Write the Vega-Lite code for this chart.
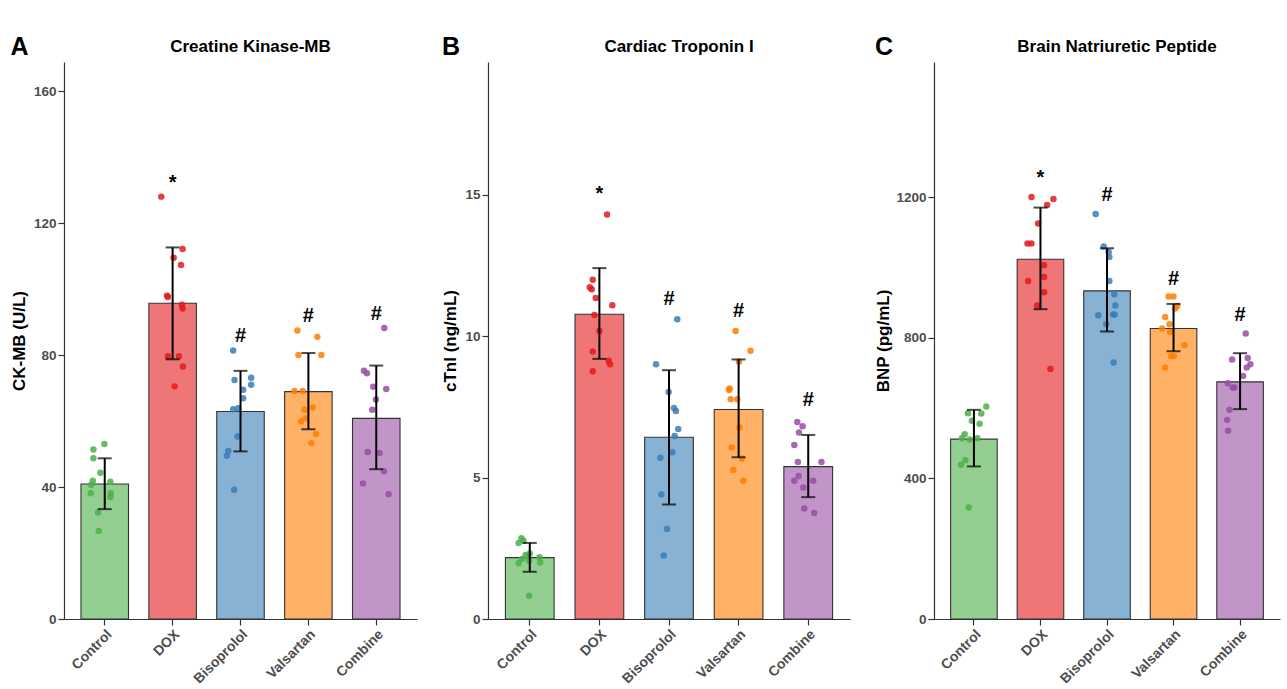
{
  "$schema": "https://vega.github.io/schema/vega-lite/v6.json",
  "padding": {"left": 10, "top": 35, "right": 4, "bottom": 4},
  "background": "white",
  "config": {
    "font": "Liberation Sans",
    "view": {"stroke": null},
    "axis": {"grid": false, "domainColor": "#333333", "tickColor": "#333333", "domainWidth": 1.2, "tickWidth": 1.2, "tickSize": 6, "labelPadding": 2, "labelFontWeight": "bold", "labelColor": "#4D4D4D", "labelFontSize": 13.5, "titleFontSize": 17, "titleFontWeight": "bold", "titleColor": "black", "titlePadding": 5},
    "axisX": {"labelFontSize": 14},
    "title": {"font": "Liberation Sans", "fontWeight": "bold", "color": "black"},
    "concat": {"spacing": 24}
  },
  "datasets": {
    "sumA": [
      {"g": "Control", "m": 40.9, "lo": 33.3, "hi": 48.7},
      {"g": "DOX", "m": 95.7, "lo": 78.7, "hi": 112.6},
      {"g": "Bisoprolol", "m": 62.9, "lo": 50.8, "hi": 75.2},
      {"g": "Valsartan", "m": 68.9, "lo": 57.5, "hi": 80.6},
      {"g": "Combine", "m": 60.8, "lo": 45.4, "hi": 76.8}
    ],
    "ptsA": [
      {"g": "Control", "v": 51.4, "j": -0.167}, {"g": "Control", "v": 53.0, "j": -0.005}, {"g": "Control", "v": 48.7, "j": -0.167}, {"g": "Control", "v": 44.3, "j": -0.064}, {"g": "Control", "v": 41.9, "j": -0.176}, {"g": "Control", "v": 41.6, "j": 0.083}, {"g": "Control", "v": 40.6, "j": -0.201}, {"g": "Control", "v": 38.1, "j": 0.088}, {"g": "Control", "v": 38.1, "j": -0.206}, {"g": "Control", "v": 37.0, "j": 0.083}, {"g": "Control", "v": 32.3, "j": -0.098}, {"g": "Control", "v": 26.7, "j": -0.088},
      {"g": "DOX", "v": 128.0, "j": -0.167}, {"g": "DOX", "v": 112.1, "j": 0.147}, {"g": "DOX", "v": 109.5, "j": 0.015}, {"g": "DOX", "v": 107.3, "j": 0.123}, {"g": "DOX", "v": 98.0, "j": -0.083}, {"g": "DOX", "v": 97.6, "j": -0.07}, {"g": "DOX", "v": 95.2, "j": 0.137}, {"g": "DOX", "v": 94.1, "j": 0.147}, {"g": "DOX", "v": 79.6, "j": -0.069}, {"g": "DOX", "v": 79.6, "j": 0.093}, {"g": "DOX", "v": 76.5, "j": 0.152}, {"g": "DOX", "v": 70.5, "j": 0.029},
      {"g": "Bisoprolol", "v": 81.4, "j": -0.108}, {"g": "Bisoprolol", "v": 72.4, "j": -0.088}, {"g": "Bisoprolol", "v": 73.1, "j": 0.157}, {"g": "Bisoprolol", "v": 71.0, "j": 0.157}, {"g": "Bisoprolol", "v": 69.5, "j": 0.039}, {"g": "Bisoprolol", "v": 66.9, "j": 0.039}, {"g": "Bisoprolol", "v": 63.6, "j": -0.108}, {"g": "Bisoprolol", "v": 63.9, "j": -0.034}, {"g": "Bisoprolol", "v": 55.3, "j": -0.044}, {"g": "Bisoprolol", "v": 50.9, "j": -0.181}, {"g": "Bisoprolol", "v": 49.5, "j": -0.201}, {"g": "Bisoprolol", "v": 39.2, "j": -0.093},
      {"g": "Valsartan", "v": 87.4, "j": -0.162}, {"g": "Valsartan", "v": 85.5, "j": 0.132}, {"g": "Valsartan", "v": 80.0, "j": -0.147}, {"g": "Valsartan", "v": 80.0, "j": 0.191}, {"g": "Valsartan", "v": 69.1, "j": -0.206}, {"g": "Valsartan", "v": 69.1, "j": -0.083}, {"g": "Valsartan", "v": 63.4, "j": -0.059}, {"g": "Valsartan", "v": 64.1, "j": 0.064}, {"g": "Valsartan", "v": 59.9, "j": -0.108}, {"g": "Valsartan", "v": 60.8, "j": -0.039}, {"g": "Valsartan", "v": 56.1, "j": 0.113}, {"g": "Valsartan", "v": 53.3, "j": 0.044},
      {"g": "Combine", "v": 88.2, "j": 0.118}, {"g": "Combine", "v": 75.2, "j": -0.181}, {"g": "Combine", "v": 74.5, "j": -0.137}, {"g": "Combine", "v": 70.4, "j": -0.044}, {"g": "Combine", "v": 69.7, "j": 0.147}, {"g": "Combine", "v": 66.5, "j": -0.005}, {"g": "Combine", "v": 63.4, "j": -0.059}, {"g": "Combine", "v": 50.6, "j": -0.127}, {"g": "Combine", "v": 50.3, "j": 0.049}, {"g": "Combine", "v": 44.8, "j": 0.113}, {"g": "Combine", "v": 41.1, "j": -0.196}, {"g": "Combine", "v": 37.8, "j": 0.181}
    ],
    "annA": [
      {"g": "DOX", "t": "*", "y": 133.6},
      {"g": "Bisoprolol", "t": "#", "y": 85.8},
      {"g": "Valsartan", "t": "#", "y": 91.9},
      {"g": "Combine", "t": "#", "y": 92.4}
    ],
    "sumB": [
      {"g": "Control", "m": 2.17, "lo": 1.67, "hi": 2.69},
      {"g": "DOX", "m": 10.78, "lo": 9.2, "hi": 12.41},
      {"g": "Bisoprolol", "m": 6.43, "lo": 4.05, "hi": 8.8},
      {"g": "Valsartan", "m": 7.41, "lo": 5.72, "hi": 9.18},
      {"g": "Combine", "m": 5.39, "lo": 4.31, "hi": 6.51}
    ],
    "ptsB": [
      {"g": "Control", "v": 2.86, "j": -0.12}, {"g": "Control", "v": 2.77, "j": -0.09}, {"g": "Control", "v": 2.69, "j": -0.16}, {"g": "Control", "v": 2.32, "j": 0.0}, {"g": "Control", "v": 2.26, "j": -0.06}, {"g": "Control", "v": 2.12, "j": -0.11}, {"g": "Control", "v": 2.06, "j": -0.01}, {"g": "Control", "v": 1.97, "j": -0.16}, {"g": "Control", "v": 2.18, "j": 0.14}, {"g": "Control", "v": 2.0, "j": 0.15}, {"g": "Control", "v": 0.82, "j": -0.01}, {"g": "Control", "v": 2.22, "j": -0.03},
      {"g": "DOX", "v": 14.31, "j": 0.11}, {"g": "DOX", "v": 12.0, "j": -0.095}, {"g": "DOX", "v": 11.73, "j": -0.138}, {"g": "DOX", "v": 11.66, "j": -0.11}, {"g": "DOX", "v": 11.35, "j": -0.052}, {"g": "DOX", "v": 11.1, "j": 0.186}, {"g": "DOX", "v": 10.75, "j": -0.071}, {"g": "DOX", "v": 10.19, "j": 0.0}, {"g": "DOX", "v": 9.46, "j": -0.095}, {"g": "DOX", "v": 9.13, "j": 0.133}, {"g": "DOX", "v": 9.01, "j": 0.152}, {"g": "DOX", "v": 8.76, "j": -0.095},
      {"g": "Bisoprolol", "v": 10.6, "j": 0.119}, {"g": "Bisoprolol", "v": 9.01, "j": -0.186}, {"g": "Bisoprolol", "v": 8.03, "j": -0.005}, {"g": "Bisoprolol", "v": 7.46, "j": 0.071}, {"g": "Bisoprolol", "v": 7.36, "j": 0.1}, {"g": "Bisoprolol", "v": 6.72, "j": 0.133}, {"g": "Bisoprolol", "v": 6.47, "j": 0.081}, {"g": "Bisoprolol", "v": 5.9, "j": 0.048}, {"g": "Bisoprolol", "v": 5.7, "j": -0.124}, {"g": "Bisoprolol", "v": 4.4, "j": -0.11}, {"g": "Bisoprolol", "v": 3.18, "j": -0.029}, {"g": "Bisoprolol", "v": 2.25, "j": -0.076},
      {"g": "Valsartan", "v": 10.19, "j": -0.043}, {"g": "Valsartan", "v": 9.49, "j": 0.171}, {"g": "Valsartan", "v": 9.1, "j": 0.005}, {"g": "Valsartan", "v": 8.15, "j": -0.129}, {"g": "Valsartan", "v": 8.1, "j": -0.138}, {"g": "Valsartan", "v": 7.77, "j": -0.114}, {"g": "Valsartan", "v": 7.77, "j": -0.019}, {"g": "Valsartan", "v": 6.77, "j": 0.014}, {"g": "Valsartan", "v": 6.07, "j": -0.1}, {"g": "Valsartan", "v": 5.68, "j": 0.048}, {"g": "Valsartan", "v": 5.27, "j": -0.076}, {"g": "Valsartan", "v": 4.89, "j": 0.067},
      {"g": "Combine", "v": 6.97, "j": -0.157}, {"g": "Combine", "v": 6.82, "j": -0.081}, {"g": "Combine", "v": 6.6, "j": -0.133}, {"g": "Combine", "v": 6.15, "j": -0.2}, {"g": "Combine", "v": 5.55, "j": -0.148}, {"g": "Combine", "v": 5.55, "j": 0.19}, {"g": "Combine", "v": 5.06, "j": -0.138}, {"g": "Combine", "v": 4.89, "j": -0.2}, {"g": "Combine", "v": 4.89, "j": 0.071}, {"g": "Combine", "v": 4.65, "j": -0.071}, {"g": "Combine", "v": 3.91, "j": -0.057}, {"g": "Combine", "v": 3.75, "j": 0.086}
    ],
    "annB": [
      {"g": "DOX", "t": "*", "y": 15.22},
      {"g": "Bisoprolol", "t": "#", "y": 11.33},
      {"g": "Valsartan", "t": "#", "y": 10.9},
      {"g": "Combine", "t": "#", "y": 7.75}
    ],
    "sumC": [
      {"g": "Control", "m": 511.5, "lo": 433.9, "hi": 594.8},
      {"g": "DOX", "m": 1023, "lo": 881, "hi": 1170},
      {"g": "Bisoprolol", "m": 933, "lo": 817.6, "hi": 1054.3},
      {"g": "Valsartan", "m": 826, "lo": 761.5, "hi": 896},
      {"g": "Combine", "m": 674.4, "lo": 596.8, "hi": 755.9}
    ],
    "ptsC": [
      {"g": "Control", "v": 604.4, "j": 0.186}, {"g": "Control", "v": 585.4, "j": -0.09}, {"g": "Control", "v": 584.6, "j": 0.111}, {"g": "Control", "v": 563.5, "j": -0.03}, {"g": "Control", "v": 555, "j": 0.085}, {"g": "Control", "v": 525.7, "j": -0.139}, {"g": "Control", "v": 514.3, "j": -0.18}, {"g": "Control", "v": 510.7, "j": -0.064}, {"g": "Control", "v": 514.3, "j": 0.051}, {"g": "Control", "v": 451.8, "j": -0.129}, {"g": "Control", "v": 438.5, "j": -0.195}, {"g": "Control", "v": 317.4, "j": -0.079},
      {"g": "DOX", "v": 1200, "j": -0.135}, {"g": "DOX", "v": 1194.4, "j": 0.195}, {"g": "DOX", "v": 1177.3, "j": 0.1}, {"g": "DOX", "v": 1124.4, "j": -0.035}, {"g": "DOX", "v": 1067.6, "j": -0.195}, {"g": "DOX", "v": 1067.6, "j": -0.135}, {"g": "DOX", "v": 1005.9, "j": 0.055}, {"g": "DOX", "v": 961.4, "j": -0.185}, {"g": "DOX", "v": 972.8, "j": 0.055}, {"g": "DOX", "v": 929.2, "j": 0.055}, {"g": "DOX", "v": 891.4, "j": -0.05}, {"g": "DOX", "v": 711.3, "j": 0.15},
      {"g": "Bisoprolol", "v": 1151.8, "j": -0.17}, {"g": "Bisoprolol", "v": 1059, "j": -0.05}, {"g": "Bisoprolol", "v": 1044, "j": 0.025}, {"g": "Bisoprolol", "v": 1029.8, "j": 0.035}, {"g": "Bisoprolol", "v": 961.4, "j": 0.035}, {"g": "Bisoprolol", "v": 923.6, "j": 0.11}, {"g": "Bisoprolol", "v": 891.4, "j": 0.125}, {"g": "Bisoprolol", "v": 863.9, "j": -0.13}, {"g": "Bisoprolol", "v": 865.9, "j": 0.09}, {"g": "Bisoprolol", "v": 865.9, "j": 0.115}, {"g": "Bisoprolol", "v": 838.3, "j": -0.01}, {"g": "Bisoprolol", "v": 729.5, "j": 0.1},
      {"g": "Valsartan", "v": 917, "j": -0.075}, {"g": "Valsartan", "v": 917, "j": 0.0}, {"g": "Valsartan", "v": 890.3, "j": 0.054}, {"g": "Valsartan", "v": 882.9, "j": 0.024}, {"g": "Valsartan", "v": 859, "j": -0.126}, {"g": "Valsartan", "v": 838.3, "j": -0.06}, {"g": "Valsartan", "v": 826, "j": -0.171}, {"g": "Valsartan", "v": 816.4, "j": -0.051}, {"g": "Valsartan", "v": 778.6, "j": 0.165}, {"g": "Valsartan", "v": 748.2, "j": -0.036}, {"g": "Valsartan", "v": 748.2, "j": 0.005}, {"g": "Valsartan", "v": 715.3, "j": -0.126},
      {"g": "Combine", "v": 811.8, "j": 0.085}, {"g": "Combine", "v": 737.9, "j": -0.12}, {"g": "Combine", "v": 742.5, "j": 0.115}, {"g": "Combine", "v": 724.6, "j": 0.155}, {"g": "Combine", "v": 715.2, "j": 0.1}, {"g": "Combine", "v": 691.4, "j": 0.045}, {"g": "Combine", "v": 670.6, "j": -0.185}, {"g": "Combine", "v": 658.4, "j": -0.085}, {"g": "Combine", "v": 658.4, "j": -0.11}, {"g": "Combine", "v": 594.8, "j": -0.16}, {"g": "Combine", "v": 566.3, "j": -0.195}, {"g": "Combine", "v": 535.1, "j": -0.18}
    ],
    "annC": [
      {"g": "DOX", "t": "*", "y": 1267},
      {"g": "Bisoprolol", "t": "#", "y": 1204.9},
      {"g": "Valsartan", "t": "#", "y": 968},
      {"g": "Combine", "t": "#", "y": 865}
    ]
  },
  "resolve": {"scale": {"x": "independent", "y": "independent"}},
  "hconcat": [
    {
      "title": {"text": "A", "fontSize": 25, "anchor": "start", "frame": "bounds", "offset": -22},
      "vconcat": [
        {
          "width": 353, "height": 557,
          "title": {"text": "Creatine Kinase-MB", "fontSize": 17, "anchor": "middle", "dx": 10, "offset": 6},
          "resolve": {"scale": {"xOffset": "independent"}},
          "encoding": {
            "x": {"field": "g", "type": "nominal", "title": null, "sort": ["Control", "DOX", "Bisoprolol", "Valsartan", "Combine"], "scale": {"domain": ["Control", "DOX", "Bisoprolol", "Valsartan", "Combine"], "paddingInner": 0.3, "paddingOuter": 0.25}, "axis": {"labelAngle": -45, "labelAlign": "right", "labelBaseline": "top"}},
            "color": {"field": "g", "type": "nominal", "legend": null, "scale": {"domain": ["Control", "DOX", "Bisoprolol", "Valsartan", "Combine"], "range": ["#4DAF4A", "#E41A1C", "#377EB8", "#FF7F00", "#984EA3"]}}
          },
          "layer": [
            {"data": {"name": "sumA"}, "mark": {"type": "bar", "fillOpacity": 0.6, "stroke": "#333333", "strokeWidth": 1.1},
             "encoding": {"y": {"field": "m", "type": "quantitative", "title": "CK-MB (U/L)", "scale": {"domain": [0, 168.8], "nice": false}, "axis": {"values": [0, 40, 80, 120, 160], "format": "d"}}}},
            {"data": {"name": "ptsA"}, "mark": {"type": "circle", "size": 42, "opacity": 0.85},
             "encoding": {"y": {"field": "v", "type": "quantitative", "title": "CK-MB (U/L)"}, "xOffset": {"field": "j", "type": "quantitative", "scale": {"domain": [-0.35, 0.35]}}}},
            {"data": {"name": "sumA"}, "mark": {"type": "rule", "strokeWidth": 2},
             "encoding": {"y": {"field": "lo", "type": "quantitative", "title": "CK-MB (U/L)"}, "y2": {"field": "hi"}, "color": {"value": "black"}}},
            {"data": {"name": "sumA"}, "mark": {"type": "tick", "size": 14, "thickness": 2},
             "encoding": {"y": {"field": "lo", "type": "quantitative", "title": "CK-MB (U/L)"}, "color": {"value": "black"}}},
            {"data": {"name": "sumA"}, "mark": {"type": "tick", "size": 14, "thickness": 2},
             "encoding": {"y": {"field": "hi", "type": "quantitative", "title": "CK-MB (U/L)"}, "color": {"value": "black"}}},
            {"data": {"name": "annA"}, "transform": [{"filter": "datum.t == '#'"}], "mark": {"type": "text", "fontSize": 20, "fontWeight": "bold", "baseline": "middle"},
             "encoding": {"y": {"field": "y", "type": "quantitative", "title": "CK-MB (U/L)"}, "text": {"field": "t"}, "color": {"value": "black"}}},
            {"data": {"name": "annA"}, "transform": [{"filter": "datum.t == '*'"}], "mark": {"type": "text", "fontSize": 20, "fontWeight": "bold", "baseline": "middle", "dy": 5},
             "encoding": {"y": {"field": "y", "type": "quantitative", "title": "CK-MB (U/L)"}, "text": {"field": "t"}, "color": {"value": "black"}}}
          ]
        }
      ]
    },
    {
      "title": {"text": "B", "fontSize": 25, "anchor": "start", "frame": "bounds", "offset": -22},
      "vconcat": [
        {
          "width": 362, "height": 557,
          "title": {"text": "Cardiac Troponin I", "fontSize": 17, "anchor": "middle", "dx": 10, "offset": 6},
          "resolve": {"scale": {"xOffset": "independent"}},
          "encoding": {
            "x": {"field": "g", "type": "nominal", "title": null, "sort": ["Control", "DOX", "Bisoprolol", "Valsartan", "Combine"], "scale": {"domain": ["Control", "DOX", "Bisoprolol", "Valsartan", "Combine"], "paddingInner": 0.3, "paddingOuter": 0.25}, "axis": {"labelAngle": -45, "labelAlign": "right", "labelBaseline": "top"}},
            "color": {"field": "g", "type": "nominal", "legend": null, "scale": {"domain": ["Control", "DOX", "Bisoprolol", "Valsartan", "Combine"], "range": ["#4DAF4A", "#E41A1C", "#377EB8", "#FF7F00", "#984EA3"]}}
          },
          "layer": [
            {"data": {"name": "sumB"}, "mark": {"type": "bar", "fillOpacity": 0.6, "stroke": "#333333", "strokeWidth": 1.1},
             "encoding": {"y": {"field": "m", "type": "quantitative", "title": "cTnI (ng/mL)", "scale": {"domain": [0, 19.7], "nice": false}, "axis": {"values": [0, 5, 10, 15], "format": "d"}}}},
            {"data": {"name": "ptsB"}, "mark": {"type": "circle", "size": 42, "opacity": 0.85},
             "encoding": {"y": {"field": "v", "type": "quantitative", "title": "cTnI (ng/mL)"}, "xOffset": {"field": "j", "type": "quantitative", "scale": {"domain": [-0.35, 0.35]}}}},
            {"data": {"name": "sumB"}, "mark": {"type": "rule", "strokeWidth": 2},
             "encoding": {"y": {"field": "lo", "type": "quantitative", "title": "cTnI (ng/mL)"}, "y2": {"field": "hi"}, "color": {"value": "black"}}},
            {"data": {"name": "sumB"}, "mark": {"type": "tick", "size": 14, "thickness": 2},
             "encoding": {"y": {"field": "lo", "type": "quantitative", "title": "cTnI (ng/mL)"}, "color": {"value": "black"}}},
            {"data": {"name": "sumB"}, "mark": {"type": "tick", "size": 14, "thickness": 2},
             "encoding": {"y": {"field": "hi", "type": "quantitative", "title": "cTnI (ng/mL)"}, "color": {"value": "black"}}},
            {"data": {"name": "annB"}, "transform": [{"filter": "datum.t == '#'"}], "mark": {"type": "text", "fontSize": 20, "fontWeight": "bold", "baseline": "middle"},
             "encoding": {"y": {"field": "y", "type": "quantitative", "title": "cTnI (ng/mL)"}, "text": {"field": "t"}, "color": {"value": "black"}}},
            {"data": {"name": "annB"}, "transform": [{"filter": "datum.t == '*'"}], "mark": {"type": "text", "fontSize": 20, "fontWeight": "bold", "baseline": "middle", "dy": 5},
             "encoding": {"y": {"field": "y", "type": "quantitative", "title": "cTnI (ng/mL)"}, "text": {"field": "t"}, "color": {"value": "black"}}}
          ]
        }
      ]
    },
    {
      "title": {"text": "C", "fontSize": 25, "anchor": "start", "frame": "bounds", "offset": -22},
      "vconcat": [
        {
          "width": 346, "height": 557,
          "title": {"text": "Brain Natriuretic Peptide", "fontSize": 17, "anchor": "middle", "dx": 10, "offset": 6},
          "resolve": {"scale": {"xOffset": "independent"}},
          "encoding": {
            "x": {"field": "g", "type": "nominal", "title": null, "sort": ["Control", "DOX", "Bisoprolol", "Valsartan", "Combine"], "scale": {"domain": ["Control", "DOX", "Bisoprolol", "Valsartan", "Combine"], "paddingInner": 0.3, "paddingOuter": 0.25}, "axis": {"labelAngle": -45, "labelAlign": "right", "labelBaseline": "top"}},
            "color": {"field": "g", "type": "nominal", "legend": null, "scale": {"domain": ["Control", "DOX", "Bisoprolol", "Valsartan", "Combine"], "range": ["#4DAF4A", "#E41A1C", "#377EB8", "#FF7F00", "#984EA3"]}}
          },
          "layer": [
            {"data": {"name": "sumC"}, "mark": {"type": "bar", "fillOpacity": 0.6, "stroke": "#333333", "strokeWidth": 1.1},
             "encoding": {"y": {"field": "m", "type": "quantitative", "title": "BNP (pg/mL)", "scale": {"domain": [0, 1584], "nice": false}, "axis": {"values": [0, 400, 800, 1200], "format": "d", "titlePadding": 3}}}},
            {"data": {"name": "ptsC"}, "mark": {"type": "circle", "size": 42, "opacity": 0.85},
             "encoding": {"y": {"field": "v", "type": "quantitative", "title": "BNP (pg/mL)"}, "xOffset": {"field": "j", "type": "quantitative", "scale": {"domain": [-0.35, 0.35]}}}},
            {"data": {"name": "sumC"}, "mark": {"type": "rule", "strokeWidth": 2},
             "encoding": {"y": {"field": "lo", "type": "quantitative", "title": "BNP (pg/mL)"}, "y2": {"field": "hi"}, "color": {"value": "black"}}},
            {"data": {"name": "sumC"}, "mark": {"type": "tick", "size": 14, "thickness": 2},
             "encoding": {"y": {"field": "lo", "type": "quantitative", "title": "BNP (pg/mL)"}, "color": {"value": "black"}}},
            {"data": {"name": "sumC"}, "mark": {"type": "tick", "size": 14, "thickness": 2},
             "encoding": {"y": {"field": "hi", "type": "quantitative", "title": "BNP (pg/mL)"}, "color": {"value": "black"}}},
            {"data": {"name": "annC"}, "transform": [{"filter": "datum.t == '#'"}], "mark": {"type": "text", "fontSize": 20, "fontWeight": "bold", "baseline": "middle"},
             "encoding": {"y": {"field": "y", "type": "quantitative", "title": "BNP (pg/mL)"}, "text": {"field": "t"}, "color": {"value": "black"}}},
            {"data": {"name": "annC"}, "transform": [{"filter": "datum.t == '*'"}], "mark": {"type": "text", "fontSize": 20, "fontWeight": "bold", "baseline": "middle", "dy": 5},
             "encoding": {"y": {"field": "y", "type": "quantitative", "title": "BNP (pg/mL)"}, "text": {"field": "t"}, "color": {"value": "black"}}}
          ]
        }
      ]
    }
  ]
}
